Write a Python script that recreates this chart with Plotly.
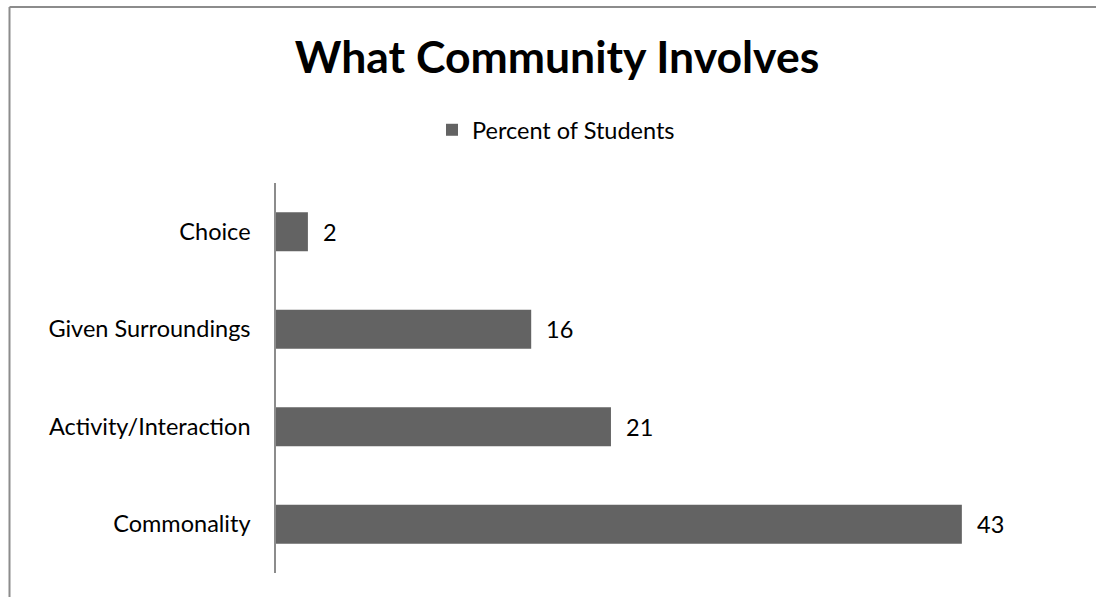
import plotly.graph_objects as go

categories = ["Commonality", "Activity/Interaction", "Given Surroundings", "Choice"]
values = [43, 21, 16, 2]
series_name = "Percent of Students"
title_text = "What Community Involves"

W, H = 1096, 597
FONT = "Lato"
BAR = "#636363"
GRID = "#8c8c8c"

fig = go.Figure()
fig.add_trace(go.Bar(
    y=categories, x=values, orientation="h", name=series_name,
    marker=dict(color=BAR, line=dict(width=0)),
    showlegend=True, hoverinfo="skip",
))

for c, v in zip(categories, values):
    fig.add_annotation(x=v, y=c, xref="x", yref="y", text=str(v),
                       showarrow=False, xanchor="left", yanchor="middle",
                       xshift=13, font=dict(family=FONT, size=23.5, color="#000"))

x0, x1 = 276 / W, (276 + 50 * 15.95) / W
ybot, ytop = (H - 573) / H, (H - 183) / H

fig.update_layout(
    width=W, height=H,
    margin=dict(l=0, r=0, t=0, b=0),
    paper_bgcolor="white", plot_bgcolor="white",
    font=dict(family=FONT, color="#000"),
    bargap=0.6,
    title=dict(text="<b>" + title_text + "</b>", x=557 / W, xanchor="center",
               y=(H - 57) / H, yanchor="middle",
               font=dict(family=FONT, size=44.5, color="#000")),
    legend=dict(orientation="h", x=556 / W, xanchor="center",
                y=(H - 130) / H, yanchor="middle",
                font=dict(family=FONT, size=23.5, color="#000"),
                itemwidth=30),
    xaxis=dict(domain=[x0, x1], range=[0, 50], visible=False, fixedrange=True),
    yaxis=dict(domain=[ybot, ytop], showline=True, linecolor=GRID, linewidth=1.5,
               showgrid=False, ticks="", ticklabelstandoff=19,
               tickfont=dict(family=FONT, size=23.5, color="#000"),
               categoryorder="array", categoryarray=categories, fixedrange=True),
    shapes=[
        dict(type="line", xref="paper", yref="paper", x0=9.5 / W, x1=1, y0=(H - 7) / H, y1=(H - 7) / H,
             line=dict(color=GRID, width=2)),
        dict(type="line", xref="paper", yref="paper", x0=9.5 / W, x1=9.5 / W, y0=0, y1=(H - 7) / H,
             line=dict(color=GRID, width=2)),
    ],
)

fig.write_html("out.html", config=dict(displayModeBar=False))
